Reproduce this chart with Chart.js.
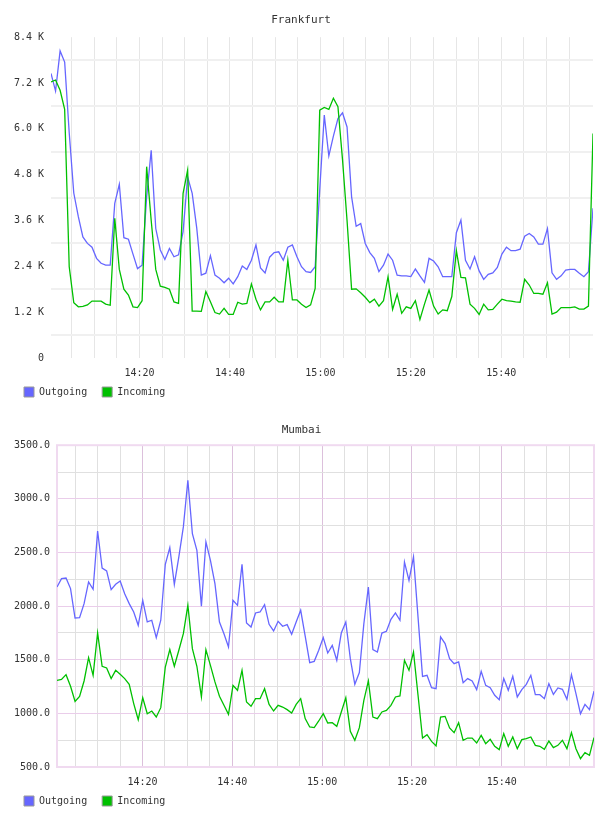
<!DOCTYPE html>
<html>
<head>
<meta charset="utf-8">
<title>Traffic - Frankfurt / Mumbai</title>
<script src="https://cdn.jsdelivr.net/npm/chart.js@4.4.1/dist/chart.umd.min.js"></script>
<style>
    body { margin: 0; background: #fff; }
    .chart-box { position: absolute; left: 0; width: 608px; height: 408px; }
</style>
</head>
<body>
<div class="chart-box" style="top:0"><canvas id="frankfurt-chart" width="608" height="408"></canvas></div>
<div class="chart-box" style="top:408px"><canvas id="mumbai-chart" width="608" height="408"></canvas></div>
<script>
// Series names and the time labels on the x axis
const seriesNames = ['Outgoing', 'Incoming'];
const seriesColors = ['#6666ff', '#00c000'];
const timeTickLabels = ['14:20', '14:40', '15:00', '15:20', '15:40'];

// Frankfurt: one sample roughly every minute
const frankfurtStart = '14:00:25';
const frankfurtStepSeconds = 60.44;
const frankfurtTickLabels = ['0', '1.2 K', '2.4 K', '3.6 K', '4.8 K', '6.0 K', '7.2 K', '8.4 K'];
const frankfurtTickStep = 1200;
const frankfurtOutgoing = [
    7450, 6990, 8040, 7750, 5900, 4320, 3700, 3170, 3000, 2900,
    2610, 2480, 2430, 2430, 4050, 4550, 3150, 3110, 2720, 2340,
    2430, 4220, 5440, 3390, 2830, 2580, 2870, 2650, 2700, 3310,
    4740, 4310, 3400, 2170, 2220, 2680, 2170, 2090, 1970, 2090,
    1940, 2130, 2410, 2320, 2560, 2960, 2360, 2230, 2640, 2760,
    2780, 2560, 2900, 2960, 2650, 2390, 2260, 2240, 2390, 4400,
    6360, 5290, 5810, 6270, 6420, 6050, 4220, 3450, 3520, 3000,
    2760, 2610, 2260, 2430, 2720, 2560, 2170, 2150, 2150, 2130,
    2330, 2150, 1980, 2610, 2540, 2390, 2130, 2130, 2130, 3280,
    3610, 2560, 2330, 2650, 2280, 2060, 2190, 2230, 2370, 2720,
    2900, 2810, 2810, 2850, 3190, 3260, 3170, 2980, 2980, 3390,
    2230, 2060, 2150, 2300, 2320, 2320, 2220, 2130, 2260, 3920
];
const frankfurtIncoming = [
    7230, 7280, 7010, 6510, 2390, 1450, 1340, 1350, 1390, 1490,
    1490, 1490, 1410, 1380, 3660, 2320, 1800, 1650, 1340, 1320,
    1500, 5010, 3600, 2320, 1880, 1850, 1800, 1470, 1430, 4310,
    4920, 1230, 1230, 1220, 1740, 1470, 1190, 1150, 1300, 1140,
    1140, 1460, 1410, 1430, 1940, 1540, 1260, 1470, 1470, 1590,
    1470, 1470, 2560, 1520, 1520, 1410, 1320, 1390, 1820, 6490,
    6560, 6510, 6800, 6580, 5200, 3600, 1800, 1810, 1710, 1590,
    1450, 1540, 1360, 1500, 2130, 1270, 1670, 1170, 1340, 1300,
    1500, 1010, 1410, 1780, 1360, 1150, 1260, 1240, 1610, 2810,
    2110, 2100, 1410, 1300, 1140, 1410, 1260, 1270, 1410, 1540,
    1500, 1490, 1470, 1460, 2060, 1910, 1690, 1690, 1670, 1970,
    1150, 1200, 1320, 1320, 1320, 1340, 1280, 1280, 1360, 5880
];

// Mumbai
const mumbaiStart = '14:00:57';
const mumbaiStepSeconds = 60.3;
const mumbaiTickLabels = ['500.0', '1000.0', '1500.0', '2000.0', '2500.0', '3000.0', '3500.0'];
const mumbaiTickStep = 500;
const mumbaiOutgoing = [
    2178, 2256, 2262, 2163, 1889, 1892, 2023, 2225, 2157, 2700,
    2355, 2328, 2153, 2203, 2234, 2116, 2023, 1945, 1821, 2054,
    1852, 1868, 1706, 1868, 2390, 2545, 2203, 2458, 2738, 3173,
    2676, 2520, 1998, 2598, 2427, 2209, 1852, 1743, 1619, 2054,
    2007, 2390, 1843, 1805, 1936, 1945, 2014, 1830, 1768, 1858,
    1812, 1827, 1737, 1852, 1961, 1720, 1473, 1485, 1588, 1706,
    1563, 1634, 1495, 1749, 1852, 1510, 1271, 1380, 1836, 2178,
    1594, 1572, 1749, 1765, 1877, 1936, 1868, 2411, 2240, 2458,
    1900, 1345, 1355, 1240, 1230, 1712, 1650, 1510, 1463, 1479,
    1286, 1324, 1302, 1221, 1392, 1261, 1240, 1168, 1128, 1324,
    1215, 1345, 1153, 1221, 1271, 1355, 1174, 1174, 1137, 1277,
    1177, 1237, 1224, 1131, 1361, 1184, 997, 1084, 1035, 1206
];
const mumbaiIncoming = [
    1308, 1317, 1361, 1252, 1112, 1159, 1302, 1519, 1355, 1749,
    1439, 1423, 1324, 1401, 1364, 1324, 1271, 1091, 941, 1146,
    997, 1022, 966, 1053, 1432, 1594, 1439, 1588, 1743, 2007,
    1603, 1439, 1153, 1594, 1448, 1293, 1159, 1075, 991, 1261,
    1215, 1401, 1106, 1066, 1137, 1137, 1230, 1084, 1022, 1075,
    1059, 1035, 1003, 1084, 1137, 951, 873, 867, 929, 997,
    910, 913, 879, 1013, 1146, 833, 749, 867, 1122, 1302,
    966, 951, 1013, 1028, 1075, 1153, 1162, 1495, 1401, 1572,
    1171, 770, 801, 739, 696, 966, 972, 864, 820, 913,
    749, 770, 770, 724, 795, 718, 758, 693, 662, 811,
    693, 780, 671, 755, 764, 780, 702, 693, 665, 742,
    680, 702, 749, 671, 820, 671, 578, 634, 609, 774
];

const monoFont = 'DejaVu Sans Mono';
const textColor = '#333';

// minutes after 14:00 for a "hh:mm(:ss)" string
function toMinutes(str) {
    const p = str.split(':').map(Number);
    return (p[0] - 14) * 60 + p[1] + (p[2] || 0) / 60;
}

function toClock(min) {
    const h = 14 + Math.floor(min / 60);
    const m = Math.round(min % 60);
    return h + ':' + String(m).padStart(2, '0');
}

// thin frame round the plot area (Mumbai only)
const plotFrame = {
    id: 'plotFrame',
    beforeDatasetsDraw(chart, args, opts) {
        if (!opts.color) return;
        const a = chart.chartArea;
        const ctx = chart.ctx;
        ctx.save();
        ctx.strokeStyle = opts.color;
        ctx.lineWidth = opts.width;
        ctx.strokeRect(a.left, a.top, a.right - a.left, a.bottom - a.top);
        ctx.restore();
    }
};

// pulls the legend up a bit closer to the time labels
const legendNudge = {
    id: 'legendNudge',
    afterLayout(chart, args, opts) {
        if (!opts.dy || !chart.legend) return;
        chart.legend.top += opts.dy;
        chart.legend.bottom += opts.dy;
    }
};

function buildChart(canvasId, cfg) {
    const startMin = toMinutes(cfg.start);
    const times = cfg.series[0].map((v, i) => startMin + i * cfg.stepSeconds / 60);
    const xMin = times[0];
    const xMax = times[times.length - 1];

    // vertical grid every 5 minutes, labels only where a tick label exists
    const xGrid = [];
    for (let m = Math.ceil(xMin / 5) * 5; m < xMax - 1; m += 5) xGrid.push(m);
    const labelMinutes = timeTickLabels.map(toMinutes);

    // y ticks every half label step, labels on the even ones
    const yBase = parseFloat(cfg.yLabels[0]);
    const yValues = [];
    for (let i = 0; i <= (cfg.yLabels.length - 1) * 2; i++) yValues.push(yBase + i * cfg.yStep / 2);

    const datasets = cfg.series.map((values, s) => ({
        label: seriesNames[s],
        data: values.map((v, i) => ({ x: times[i], y: v })),
        borderColor: seriesColors[s],
        backgroundColor: seriesColors[s],
        borderWidth: 1.3,
        pointRadius: 0,
        tension: 0,
        order: s === 0 ? 1 : 0 // incoming drawn on top
    }));

    new Chart(document.getElementById(canvasId), {
        type: 'line',
        data: { datasets },
        plugins: [plotFrame, legendNudge],
        options: {
            responsive: false,
            animation: false,
            layout: { padding: { left: 9, right: cfg.rightPad, top: 0, bottom: cfg.bottomPad } },
            plugins: {
                title: {
                    display: true,
                    text: cfg.title,
                    color: textColor,
                    font: { family: monoFont, size: 11, weight: 'normal' },
                    padding: cfg.titlePadding
                },
                legend: {
                    position: 'bottom',
                    align: 'start',
                    maxHeight: 28,
                    labels: {
                        boxWidth: 10,
                        boxHeight: 10,
                        padding: 15,
                        color: textColor,
                        font: { family: monoFont, size: 10 },
                        sort: (a, b) => a.datasetIndex - b.datasetIndex,
                        generateLabels: chart => Chart.defaults.plugins.legend.labels.generateLabels(chart)
                            .map(item => Object.assign(item, { strokeStyle: '#999', lineWidth: 1 }))
                    }
                },
                tooltip: { enabled: false },
                plotFrame: cfg.frame,
                legendNudge: { dy: -7 }
            },
            scales: {
                x: {
                    type: 'linear',
                    min: xMin,
                    max: xMax,
                    afterBuildTicks: scale => { scale.ticks = xGrid.map(v => ({ value: v })); },
                    afterFit: scale => { scale.height = 21; },
                    border: { display: false },
                    grid: {
                        drawTicks: false,
                        color: ctx => cfg.xGridColor(labelMinutes.includes(ctx.tick.value)),
                        lineWidth: 1
                    },
                    ticks: {
                        autoSkip: false,
                        maxRotation: 0,
                        padding: 9,
                        color: textColor,
                        font: { family: monoFont, size: 10 },
                        callback: v => labelMinutes.includes(v) ? toClock(v) : ''
                    }
                },
                y: {
                    min: yValues[0],
                    max: yValues[yValues.length - 1],
                    afterBuildTicks: scale => { scale.ticks = yValues.map(v => ({ value: v })); },
                    afterFit: scale => { scale.width = cfg.yWidth; },
                    border: { display: false },
                    grid: {
                        drawTicks: false,
                        color: ctx => cfg.yGridColor(ctx.index % 2 === 0),
                        lineWidth: cfg.yGridWidth
                    },
                    ticks: {
                        autoSkip: false,
                        padding: 7,
                        color: textColor,
                        font: { family: monoFont, size: 10 },
                        callback: (v, i) => i % 2 === 0 ? cfg.yLabels[i / 2] : ''
                    }
                }
            }
        }
    });
}

document.addEventListener('DOMContentLoaded', () => {
    buildChart('frankfurt-chart', {
        title: 'Frankfurt',
        start: frankfurtStart,
        stepSeconds: frankfurtStepSeconds,
        series: [frankfurtOutgoing, frankfurtIncoming],
        yLabels: frankfurtTickLabels,
        yStep: frankfurtTickStep,
        yWidth: 42,
        rightPad: 15,
        bottomPad: 1,
        titlePadding: { top: 14, bottom: 10 },
        xGridColor: () => '#e6e6e6',
        yGridColor: labelled => labelled ? 'rgba(0,0,0,0)' : '#f0f0f0',
        yGridWidth: 2,
        frame: {}
    });

    buildChart('mumbai-chart', {
        title: 'Mumbai',
        start: mumbaiStart,
        stepSeconds: mumbaiStepSeconds,
        series: [mumbaiOutgoing, mumbaiIncoming],
        yLabels: mumbaiTickLabels,
        yStep: mumbaiTickStep,
        yWidth: 48,
        rightPad: 14,
        bottomPad: 0,
        titlePadding: { top: 16, bottom: 8 },
        xGridColor: major => major ? '#dcc0dc' : '#e0e0e0',
        yGridColor: major => major ? '#eacdea' : '#e0e0e0',
        yGridWidth: 1,
        frame: { color: '#f0daf0', width: 2 }
    });
});
</script>
</body>
</html>
